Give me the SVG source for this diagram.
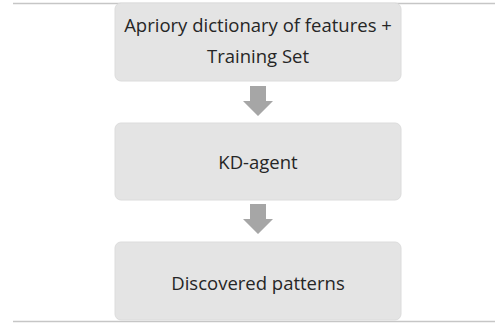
<svg xmlns="http://www.w3.org/2000/svg" width="495" height="324" viewBox="0 0 495 324">
<style>
.rule{stroke:#c6c6c6;stroke-width:1.5;fill:none}
.box{fill:#e4e4e4;stroke:#dcdcdc;stroke-width:1}
.lbl{font-family:"Open Sans","Liberation Sans",sans-serif;font-size:18.5px;fill:#262626;text-anchor:middle}
.arr{fill:#a6a6a6}
</style>
<rect width="495" height="324" fill="#ffffff"/>
<line class="rule" x1="13" y1="3.5" x2="495" y2="3.5"/>
<line class="rule" x1="13" y1="321.5" x2="495" y2="321.5"/>
<g id="node1">
<rect class="box" x="115" y="3" width="286" height="78" rx="6"/>
<text class="lbl" x="258" y="32">Apriory dictionary of features +</text>
<text class="lbl" x="258" y="63">Training Set</text>
</g>
<g id="node2">
<rect class="box" x="115" y="123" width="286" height="77" rx="6"/>
<text class="lbl" x="258" y="169">KD-agent</text>
</g>
<g id="node3">
<rect class="box" x="115" y="242" width="286" height="78" rx="6"/>
<text class="lbl" x="258" y="290">Discovered patterns</text>
</g>
<g id="connectors">
<path class="arr" d="M250,86 H266 V101 H273 L258,116 L243,101 H250 Z"/>
<path class="arr" d="M250,204 H266 V219 H273 L258,234 L243,219 H250 Z"/>
</g>
</svg>
